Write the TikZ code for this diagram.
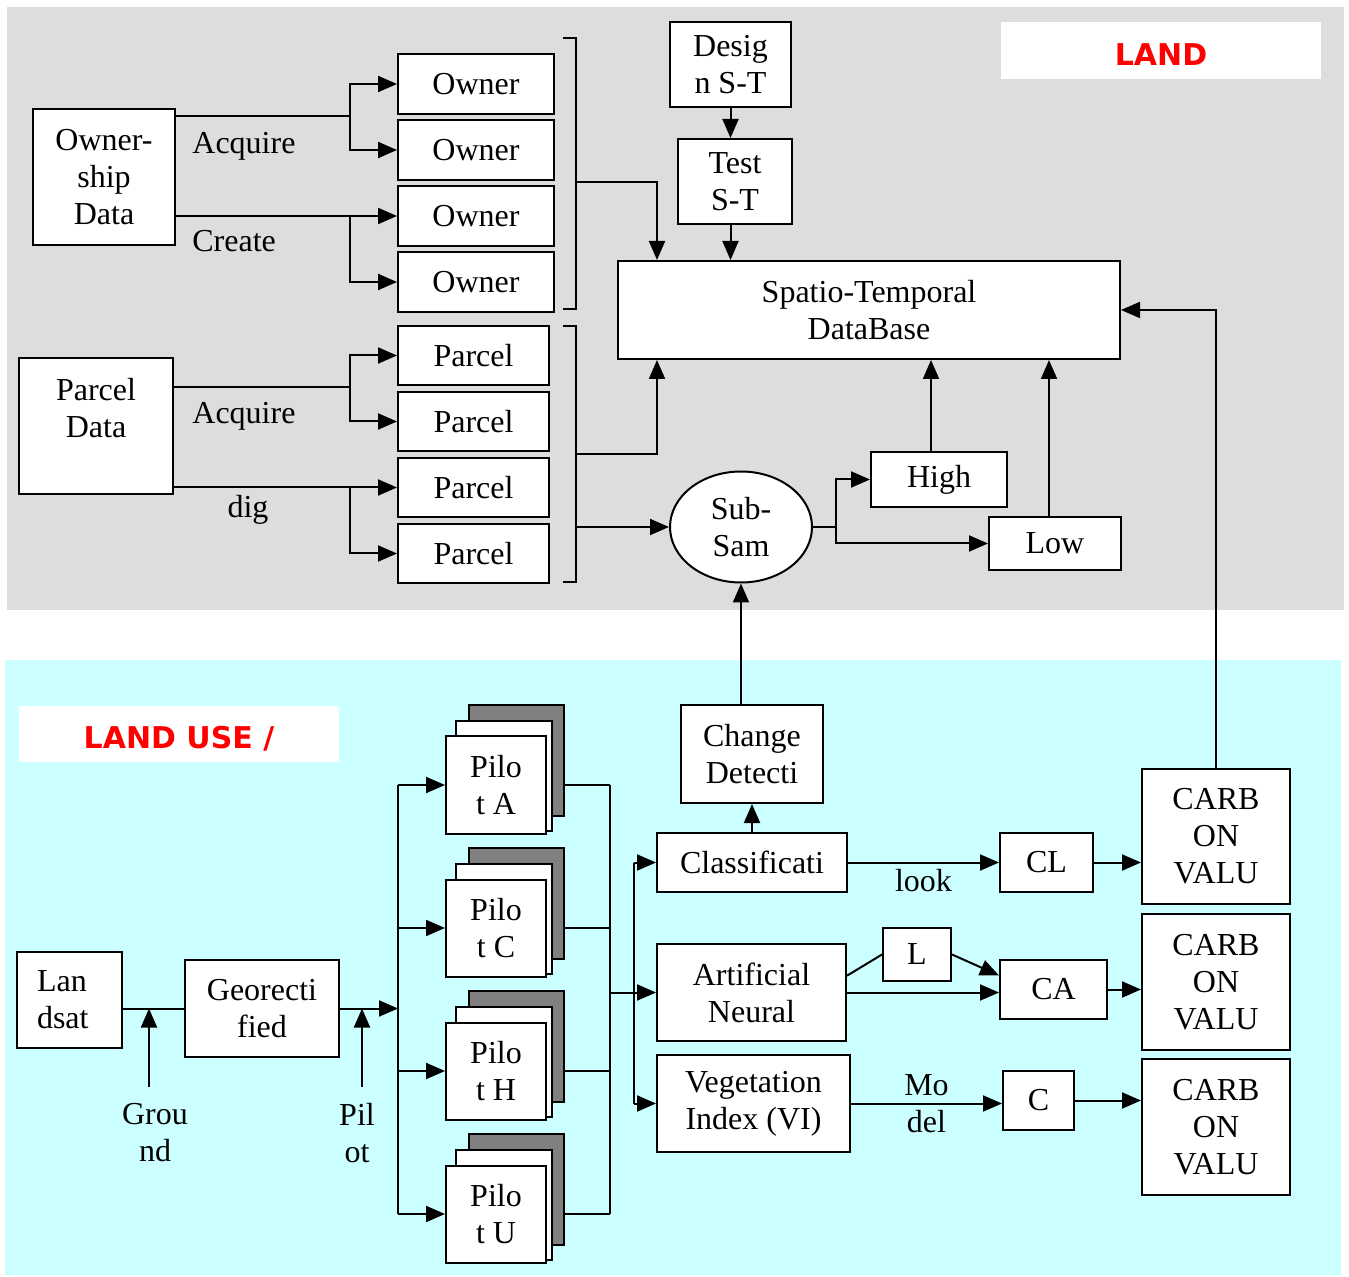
\documentclass[tikz,border=0pt]{standalone}
\usepackage{fontspec}
\setmainfont{Liberation Serif}
\newfontfamily\titlefont{DejaVu Sans}
\usetikzlibrary{arrows.meta,positioning,calc,shapes.geometric}
\definecolor{Lgray}{RGB}{221,221,221}
\definecolor{Lcyan}{RGB}{204,255,255}
\definecolor{Lred}{RGB}{255,0,0}
\definecolor{Ldark}{RGB}{128,128,128}
\tikzset{
  flow/.style={-{Triangle[length=9.5pt,width=8pt]}, line width=1pt},
  wire/.style={line width=1pt},
  wh/.style 2 args={minimum width=#1*0.5pt, minimum height=#2*0.5pt},
  box/.style={draw, fill=white, line width=1pt, align=center, inner sep=0pt, font=\fontsize{16}{18.5}\selectfont},
  lbl/.style={align=center, inner sep=0pt, font=\fontsize{16}{18.5}\selectfont},
  titlebox/.style={fill=white, inner sep=0pt, text=Lred, font=\titlefont\bfseries\fontsize{15}{18}\selectfont}
}
\begin{document}
\begin{tikzpicture}[x=0.5pt, y=-0.5pt]
  \useasboundingbox (0,0) rectangle (1349,1277);
  \fill[Lgray] (7,7) rectangle (1344,610);
  \fill[Lcyan] (5,660) rectangle (1341,1275);

  \node[titlebox, wh={320}{57}] (landtop) at (1161,50.5) {};
  \node[text=Lred, font=\titlefont\bfseries\fontsize{15}{18}\selectfont] (landtxt) at (1161,55) {LAND};
  \node[titlebox, wh={320}{56}] (landuse) at (179,734) {};
  \node[text=Lred, font=\titlefont\bfseries\fontsize{15}{18}\selectfont] (landusetxt) at (179,739) {LAND USE /};

  % ownership and parcel data
  \node[box, wh={142}{136}] (own) at (104,177) {Owner-\\ship\\Data};
  \node[box, wh={156}{60}] (o1) at (476,84) {Owner};
  \node[box, wh={156}{60}, below=2pt of o1] (o2) {Owner};
  \node[box, wh={156}{60}, below=2pt of o2] (o3) {Owner};
  \node[box, wh={156}{60}, below=2pt of o3] (o4) {Owner};
  \node[box, wh={154}{136}] (pd) at (96,426) {Parcel\\Data\\\mbox{}};
  \node[box, wh={151}{59}] (p1) at (473.5,355.5) {Parcel};
  \node[box, wh={151}{59}, below=2.5pt of p1] (p2) {Parcel};
  \node[box, wh={151}{59}, below=2.5pt of p2] (p3) {Parcel};
  \node[box, wh={151}{59}, below=2.5pt of p3] (p4) {Parcel};
  \node[lbl, anchor=west] (lacq1) at (192,146) {Acquire};
  \node[lbl, anchor=west] (lcre) at (192,241) {Create};
  \node[lbl, anchor=west] (lacq2) at (192,416) {Acquire};
  \node[lbl] (ldig) at (248,510) {dig};

  \coordinate (osplit) at (350,116);
  \draw[wire] (own.east |- osplit) -- (osplit);
  \draw[flow] (osplit) |- (o1);
  \draw[flow] (osplit) |- (o2);
  \draw[flow] (own.east |- o3) -- (o3);
  \draw[flow] (osplit |- o3) |- (o4);
  \coordinate (psplit) at (350,387.5);
  \draw[wire] (pd.east |- psplit) -- (psplit);
  \draw[flow] (psplit) |- (p1);
  \draw[flow] (psplit) |- (p2);
  \draw[flow] (pd.east |- p3) -- (p3);
  \draw[flow] (psplit |- p3) |- (p4);

  % brackets
  \draw[wire] (563,38) -- (576,38) -- (576,309) -- (563,309);
  \draw[wire] (563,326) -- (576,326) -- (576,582) -- (563,582);
  \coordinate (ob) at (576,182);
  \coordinate (pb) at (576,454);
  \coordinate (sb) at (576,527);

  % database side
  \node[box, wh={121}{85}] (design) at (730.5,64.5) {Desig\\n S-T};
  \node[box, wh={114}{85}] (test) at (735,181.5) {Test\\S-T};
  \node[box, wh={502}{98}] (db) at (869,310) {Spatio-Temporal\\DataBase};
  \node[box, ellipse, wh={142}{111}] (sub) at (741,527) {Sub-\\Sam};
  \node[box, wh={136}{55}] (high) at (939,479.5) {High};
  \node[box, wh={132}{53}] (low) at (1055,543.5) {Low};
  \coordinate (dbin) at ($(db.north west)+(40,0)$);
  \coordinate (dbout) at ($(db.south west)+(40,0)$);
  \coordinate (hup) at ($(high.north)+(-8,0)$);
  \coordinate (lup) at ($(low.north)+(-6,0)$);

  \draw[flow] (design.south) -- (design.south |- test.north);
  \draw[flow] (design.south |- test.south) -- (design.south |- db.north);
  \draw[flow] (ob) -| (dbin);
  \draw[flow] (pb) -| (dbout);
  \draw[flow] (sb) -- (sub);
  \coordinate (ssplit) at (836,527);
  \draw[wire] (sub.east) -- (ssplit);
  \draw[flow] (ssplit) |- (high);
  \draw[flow] (ssplit) |- (low);
  \draw[flow] (hup) -- (hup |- db.south);
  \draw[flow] (lup) -- (lup |- db.south);

  % land use side
  \node[box, wh={105}{96}, align=left, text width=32.5pt] (ls) at (69.5,1000) {Lan\\dsat};
  \node[box, wh={154}{97}] (geo) at (262,1008.5) {Georecti\\fied};
  \node[lbl] (gnd) at (155,1133) {Grou\\nd};
  \node[lbl] (pil) at (357,1133) {Pil\\ot};
  \coordinate (gfoot) at (149,1087);
  \coordinate (pfoot) at (362,1087);
  \coordinate (bus) at (398,1008.5);
  \coordinate (rbus) at (610,992);
  \coordinate (cbus) at (634,992);

  \draw[wire] (ls.east |- geo) -- (geo);
  \draw[flow] (gfoot) -- (gfoot |- geo);
  \draw[flow] (geo.east) -- (bus);
  \draw[flow] (pfoot) -- (pfoot |- geo);

  \foreach \n/\k in {A/0,C/1,H/2,U/3}{
    \node[box, fill=Ldark, wh={95}{111}] (pb\n) at (516.5,760.5+143*\k) {};
    \node[box, wh={96}{110}] (pm\n) at (504,776+143*\k) {};
    \node[box, wh={100}{97}] (p\n) at (496,785+143*\k) {Pilo\\t \n};
    \draw[flow] (bus |- p\n) -- (p\n);
    \draw[wire] (pb\n.east |- p\n) -- (rbus |- p\n);
  }
  \draw[wire] (bus |- pA) -- (bus |- pU);
  \draw[wire] (rbus |- pA) -- (rbus |- pU);

  \node[box, wh={142}{98}] (change) at (752,754) {Change\\Detecti};
  \node[box, wh={190}{59}] (cls) at (752,862.5) {Classificati};
  \node[box, wh={189}{97}] (ann) at (751.5,992.5) {Artificial\\Neural};
  \node[box, wh={193}{97}] (vi) at (753.5,1103.5) {Vegetation\\Index (VI)};
  \node[box, wh={93}{59}] (cl) at (1046.5,862.5) {CL};
  \node[box, wh={68}{53}] (lb) at (917,954.5) {L};
  \node[box, wh={107}{59}] (ca) at (1053.5,989.5) {CA};
  \node[box, wh={71}{59}] (cc) at (1038.5,1100.5) {C};
  \node[box, wh={148}{135}] (carb1) at (1216,836.5) {CARB\\ON\\VALU};
  \node[box, wh={148}{136}, below=4pt of carb1] (carb2) {CARB\\ON\\VALU};
  \node[box, wh={148}{136}, below=3.5pt of carb2] (carb3) {CARB\\ON\\VALU};

  \draw[flow] (rbus |- ann) -- (ann);
  \draw[wire] (cbus |- cls) -- (cbus |- vi);
  \draw[flow] (cbus |- cls) -- (cls);
  \draw[flow] (cbus |- vi) -- (vi);
  \draw[flow] (cls.north) -- (change.south);
  \draw[flow] (change.north -| sub.south) -- (sub.south);
  \draw[flow] (cls) -- node[lbl, below=3pt] (llook) {look} (cl);
  \draw[flow] (cl.east) -- (cl.east -| carb1.west);
  \draw[wire] ($(ann.north east)!0.33!(ann.south east)$) -- (lb.west);
  \draw[flow] (lb.east) -- ($(ca.north west)!0.27!(ca.south west)$);
  \draw[flow] (ann) -- (ann -| ca.west);
  \draw[flow] (ca.east) -- (ca.east -| carb2.west);
  \draw[flow] (vi) -- node[lbl] (lmodel) {Mo\\del} (vi -| cc.west);
  \draw[flow] (cc.east) -- (cc.east -| carb3.west);
  \draw[flow] (carb1.north) |- (db.east);
\end{tikzpicture}
\end{document}
